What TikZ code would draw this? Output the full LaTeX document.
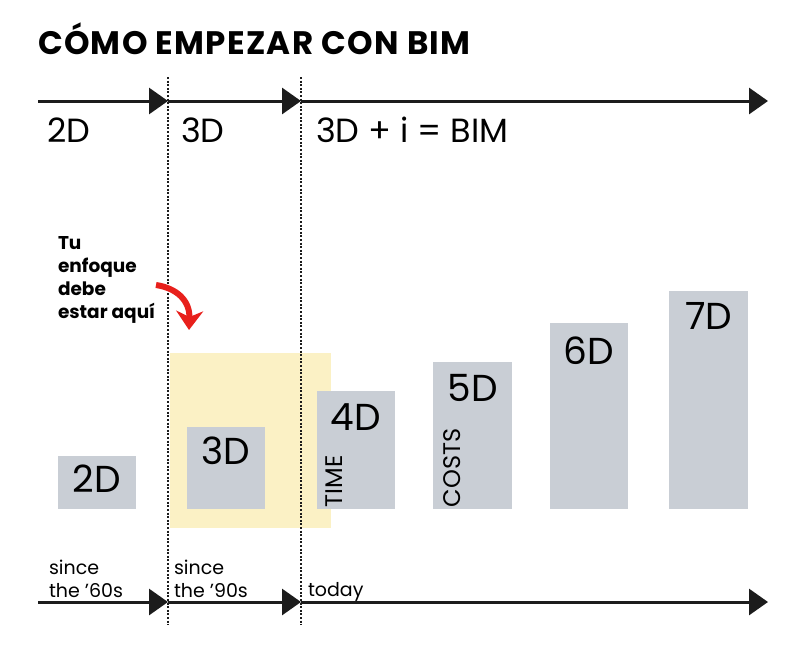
\documentclass[tikz,border=0pt]{standalone}
\usepackage{fontspec}
\setmainfont{Poppins}
\usepackage{xcolor}
\usetikzlibrary{arrows.meta,positioning}
\definecolor{boxgray}{RGB}{201,206,213}
\definecolor{focusyellow}{RGB}{251,241,197}
\definecolor{focusred}{RGB}{232,32,28}
\definecolor{lineblack}{RGB}{28,28,28}

\begin{document}
\begin{tikzpicture}
[x=1pt, y=-1pt,
% STYLES
every node/.style={inner sep=0pt, outer sep=0pt},
% The title style is used for the heading
title/.style={anchor=base west, font=\fontsize{32.5}{32.5}\selectfont\bfseries\addfontfeatures{LetterSpace=4}},
% The era style is used for the names under the top timeline
era/.style={anchor=base west, font=\fontsize{33.5}{33.5}\selectfont},
% The period style is used for the dates over the bottom timeline
period/.style={anchor=base west, align=left, font=\fontsize{19}{23}\selectfont},
% The note style is used for the hint in bold
note/.style={anchor=north west, align=left, font=\fontsize{18.5}{23}\selectfont\bfseries},
timeline/.style={line width=3pt, draw=lineblack, -{Triangle[length=19pt,width=26pt]}},
divider/.style={line width=2.5pt, draw=lineblack, dash pattern=on 2pt off 1.6pt},
% The dimbox style is used to draw the dimensions as bars
dimbox/.style={fill=boxgray, anchor=south west},
dimlabel/.style={font=\fontsize{37.5}{37.5}\selectfont, anchor=north},
dimtag/.style={font=\fontsize{24}{24}\selectfont, rotate=90, anchor=base west}]

\fill[white] (0,0) rectangle (800,661);
\useasboundingbox (0,0) rectangle (800,661);

\node [title] (title) at (38,55) {CÓMO EMPEZAR CON BIM};

% Top timeline
\coordinate (top-start) at (38,101);
\coordinate (top-90s) at (168,101);
\coordinate (top-today) at (301,101);
\coordinate (top-end) at (768,101);
\draw[timeline] (top-start) -- (top-90s);
\draw[timeline] (top-90s) -- (top-today);
\draw[timeline] (top-today) -- (top-end);

\node [era] (era-2d) at (47,142) {2D};
\node [era] (era-3d) at (181,142) {3D};
\node [era] (era-bim) at (316,142) {3D + i = BIM};

% Focus area
\node [fill=focusyellow, minimum width=161pt, minimum height=175pt, anchor=north west] (focus) at (170,353) {};

% Dividers
\coordinate (div-90s-top) at (168,77);
\coordinate (div-90s-bot) at (168,625);
\coordinate (div-today-top) at (301,77);
\coordinate (div-today-bot) at (301,625);
\draw[divider] (div-90s-top) -- (div-90s-bot);
\draw[divider] (div-today-top) -- (div-today-bot);

% Hint
\node [note] (hint) at (58,237) {Tu\\enfoque\\debe\\estar aquí};
\coordinate (pointer-start) at (156,285);
\coordinate (pointer-end) at (189,330);
\draw[focusred, line width=6pt, -{Stealth[length=19pt,width=27pt,inset=6pt]}]
  (pointer-start) .. controls (176,288) and (190,300) .. (pointer-end);

%%%%%%%%%%%%%%%
% Dimensions

% 2D
\node [dimbox, minimum width=78pt, minimum height=53pt] (box2d) at (58,509) {};
\node [dimlabel, below=9pt of box2d.north] (lbl2d) {2D};

% 3D
\node [dimbox, minimum width=78pt, minimum height=82pt] (box3d) at (187,509) {};
\node [dimlabel, below=10pt of box3d.north] (lbl3d) {3D};

% 4D
\node [dimbox, minimum width=78pt, minimum height=118pt] (box4d) at (317,509) {};
\node [dimlabel, below=13pt of box4d.north] (lbl4d) {4D};
\node [dimtag] (tag4d) at (342,507) {TIME};

% 5D
\node [dimbox, minimum width=79pt, minimum height=147pt] (box5d) at (433,509) {};
\node [dimlabel, below=12pt of box5d.north] (lbl5d) {5D};
\node [dimtag] (tag5d) at (460,507) {COSTS};

% 6D
\node [dimbox, minimum width=78pt, minimum height=186pt] (box6d) at (550,509) {};
\node [dimlabel, below=14pt of box6d.north] (lbl6d) {6D};

% 7D
\node [dimbox, minimum width=79pt, minimum height=218pt] (box7d) at (669,509) {};
\node [dimlabel, below=11pt of box7d.north] (lbl7d) {7D};

%%%%%%%%%%%%%%%

% Bottom timeline
\coordinate (bot-start) at (38,602);
\coordinate (bot-90s) at (168,602);
\coordinate (bot-today) at (301,602);
\coordinate (bot-end) at (768,602);
\draw[timeline] (bot-start) -- (bot-90s);
\draw[timeline] (bot-90s) -- (bot-today);
\draw[timeline] (bot-today) -- (bot-end);

\node [period] (since-60s) at (49,597) {since\\the '60s};
\node [period] (since-90s) at (174,597) {since\\the '90s};
\node [period] (today) at (308,596) {today};

\end{tikzpicture}
\end{document}
